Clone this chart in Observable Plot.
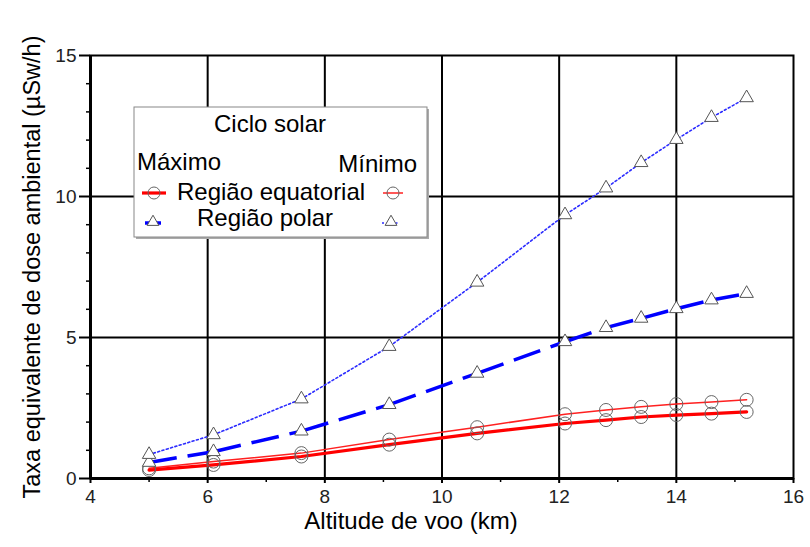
<!DOCTYPE html>
<html><head><meta charset="utf-8">
<script src="https://cdn.jsdelivr.net/npm/d3@7"></script>
<script src="https://cdn.jsdelivr.net/npm/@observablehq/plot@0.6"></script>
<style>
body{margin:0;background:#fff;}
#chart{position:relative;width:810px;height:547px;}
</style>
</head><body><div id="chart"></div>
<script>
// Flight altitude (km)
const altitude = [5.0, 6.1, 7.6, 9.1, 10.6, 12.1, 12.8, 13.4, 14.0, 14.6, 15.2];
// Equatorial region – solar maximum (thick red) / minimum (thin red)
const eqMax = [0.30, 0.48, 0.78, 1.20, 1.60, 1.95, 2.07, 2.18, 2.25, 2.30, 2.36];
const eqMin = [0.36, 0.60, 0.90, 1.38, 1.82, 2.28, 2.43, 2.54, 2.64, 2.71, 2.79];
// Polar region – solar maximum (thick dashed blue) / minimum (dotted blue)
const polarMax = [0.57, 0.95, 1.68, 2.62, 3.73, 4.85, 5.35, 5.68, 6.02, 6.33, 6.56];
const polarMin = [0.85, 1.55, 2.82, 4.68, 6.96, 9.35, 10.30, 11.20, 12.02, 12.80, 13.50];

const xTicks = [4, 6, 8, 10, 12, 14, 16];
const xMinor = [5, 7, 9, 11, 13, 15];
const yTicks = [0, 5, 10, 15];
const yMinor = [1, 2, 3, 4, 6, 7, 8, 9, 11, 12, 13, 14];
const xGrid = [6, 8, 10, 12, 14];
const yGrid = [5, 10];

const xLabel = "Altitude de voo (km)";
const yLabel = "Taxa equivalente de dose ambiental (µSw/h)";

const pts = ys => altitude.map((x, i) => ({x, y: ys[i]}));
const segs = ys => altitude.slice(1).map((x, i) => ({x1: altitude[i], y1: ys[i], x2: x, y2: ys[i + 1]}));

const font = "'Liberation Sans', Arial, sans-serif";

const plot = Plot.plot({
  width: 810,
  height: 547,
  marginLeft: 90,
  marginRight: 17,
  marginTop: 55,
  marginBottom: 69,
  style: {fontFamily: font, fontSize: "19px", color: "#000", background: "#fff"},
  x: {domain: [4, 16]},
  y: {domain: [0, 15]},
  marks: [
    Plot.ruleX(xGrid, {stroke: "#000", strokeWidth: 2}),
    Plot.ruleY(yGrid, {stroke: "#000", strokeWidth: 2}),
    Plot.frame({stroke: "#000", strokeWidth: 2}),
    Plot.axisX(xTicks, {tickSize: 5, tickPadding: 6, strokeWidth: 2, label: null, fill: "#222"}),
    Plot.axisX(xMinor, {tickSize: 4, strokeWidth: 1.5, tickFormat: () => "", label: null}),
    Plot.axisY(yTicks, {tickSize: 11, tickPadding: 3, strokeWidth: 2, label: null, fill: "#222"}),
    Plot.axisY(yMinor, {tickSize: 4, strokeWidth: 1.5, tickFormat: () => "", label: null}),
    Plot.ruleX([4], {stroke: "#000", strokeWidth: 3}),
    Plot.ruleY([0], {stroke: "#000", strokeWidth: 3}),
    // lines
    Plot.line(pts(eqMin), {x: "x", y: "y", stroke: "#ff2020", strokeWidth: 1.5}),
    Plot.line(pts(eqMax), {x: "x", y: "y", stroke: "#ff0000", strokeWidth: 3.2}),
    Plot.line(pts(polarMin), {x: "x", y: "y", stroke: "#2b2bff", strokeWidth: 1.6, strokeDasharray: "2,2.5"}),
    Plot.link(segs(polarMax), {x1: "x1", y1: "y1", x2: "x2", y2: "y2", stroke: "#0000ff", strokeWidth: 3.5, strokeDasharray: "28,11"}),
    // markers
    Plot.dot(pts(eqMin), {x: "x", y: "y", r: 6.5, stroke: "#666", strokeWidth: 1, fill: "none"}),
    Plot.dot(pts(eqMax), {x: "x", y: "y", r: 6.5, stroke: "#666", strokeWidth: 1, fill: "none"}),
    Plot.dot(pts(polarMax), {x: "x", y: "y", r: 5, symbol: "triangle", stroke: "#555", strokeWidth: 1, fill: "#fff"}),
    Plot.dot(pts(polarMin), {x: "x", y: "y", r: 5, symbol: "triangle", stroke: "#555", strokeWidth: 1, fill: "#fff"}),
    // axis titles
    Plot.text([xLabel], {text: d => d, frameAnchor: "bottom", textAnchor: "middle", lineAnchor: "middle", dx: -31, dy: 43, fontSize: 24, fill: "#000", style: "letter-spacing:0.6px"}),
    Plot.text([yLabel], {text: d => d, frameAnchor: "left", textAnchor: "middle", lineAnchor: "middle", rotate: -90, dx: -58, fontSize: 23.5, fill: "#000"})
  ]
});

document.getElementById("chart").appendChild(plot);

// Legend box drawn into the plot's SVG
const svg = d3.select(plot);
const g = svg.append("g").attr("font-family", font).attr("font-size", 24).attr("fill", "#000").attr("text-anchor", "start");
g.append("rect").attr("x", 136).attr("y", 109).attr("width", 293).attr("height", 130).attr("fill", "#aaa");
g.append("rect").attr("x", 134).attr("y", 107).attr("width", 293).attr("height", 130).attr("fill", "#fff").attr("stroke", "#888").attr("stroke-width", 1);
g.append("text").attr("x", 270).attr("y", 132).attr("text-anchor", "middle").text("Ciclo solar");
g.append("text").attr("x", 137).attr("y", 170).attr("text-anchor", "start").text("Máximo");
g.append("text").attr("x", 417).attr("y", 172).attr("text-anchor", "end").text("Mínimo");
g.append("text").attr("x", 177).attr("y", 200).attr("text-anchor", "start").text("Região equatorial");
g.append("text").attr("x", 197).attr("y", 226).attr("text-anchor", "start").text("Região polar");
// symbols
g.append("line").attr("x1", 142).attr("x2", 166).attr("y1", 193).attr("y2", 193).attr("stroke", "#ff0000").attr("stroke-width", 3.2);
g.append("circle").attr("cx", 154).attr("cy", 193).attr("r", 6).attr("fill", "none").attr("stroke", "#666");
g.append("line").attr("x1", 383).attr("x2", 403).attr("y1", 193).attr("y2", 193).attr("stroke", "#ff2020").attr("stroke-width", 1.5);
g.append("circle").attr("cx", 393).attr("cy", 193).attr("r", 6).attr("fill", "none").attr("stroke", "#666");
const tri = d3.symbol(d3.symbolTriangle, 60)();
g.append("line").attr("x1", 145).attr("x2", 161).attr("y1", 223).attr("y2", 223).attr("stroke", "#0000ff").attr("stroke-width", 3.5);
g.append("path").attr("d", tri).attr("transform", "translate(153,222)").attr("fill", "#fff").attr("stroke", "#555");
g.append("line").attr("x1", 382).attr("x2", 400).attr("y1", 223).attr("y2", 223).attr("stroke", "#2b2bff").attr("stroke-width", 1.6).attr("stroke-dasharray", "2,2.5");
g.append("path").attr("d", tri).attr("transform", "translate(391,222)").attr("fill", "#fff").attr("stroke", "#555");
</script>
</body></html>
